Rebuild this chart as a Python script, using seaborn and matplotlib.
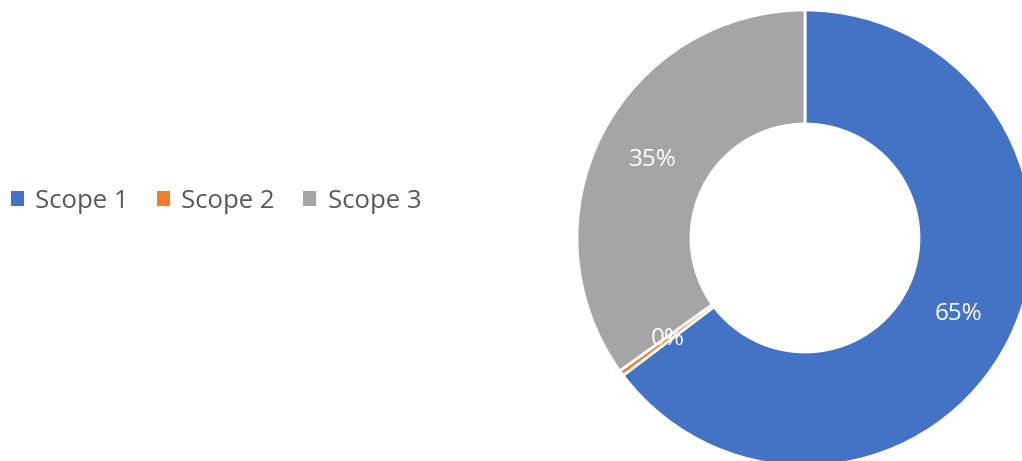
import matplotlib
matplotlib.use("Agg")
import matplotlib.pyplot as plt
import seaborn as sns
from matplotlib.patches import Patch

categories = ["Scope 1", "Scope 2", "Scope 3"]
values = [64.7, 0.4, 34.9]
colors = ["#4472C4", "#ED7D31", "#A5A5A5"]

sns.set_theme(style="white")
plt.rcParams['font.family'] = ['Open Sans', 'DejaVu Sans']

W, H = 1022, 461
fig = plt.figure(figsize=(W / 100, H / 100), dpi=100)
cx, cy, r = 805, 238, 228
ax = fig.add_axes([(cx - r) / W, (H - cy - r) / H, 2 * r / W, 2 * r / H])
wedges, texts, autotexts = ax.pie(
    values, colors=colors, startangle=90, counterclock=False, radius=1,
    autopct='%1.0f%%', pctdistance=0.75,
    wedgeprops=dict(width=0.5, edgecolor='white', linewidth=2),
    textprops=dict(color='white', fontsize=17.5))
ax.set_xlim(-1, 1)
ax.set_ylim(-1, 1)
ax.set_aspect('equal')
ax.axis('off')
for w in wedges:
    w.set_clip_on(False)

handles = [Patch(facecolor=c, edgecolor='none') for c in colors]
leg = fig.legend(handles, categories, loc='center left', bbox_to_anchor=(-0.012, (H - 201) / H),
                 ncol=3, frameon=False, fontsize=18.5, handlelength=0.5, handleheight=0.5,
                 handletextpad=0.45, columnspacing=1.1, labelcolor='#595959')
fig.savefig("out.png", dpi=100, facecolor='white')
